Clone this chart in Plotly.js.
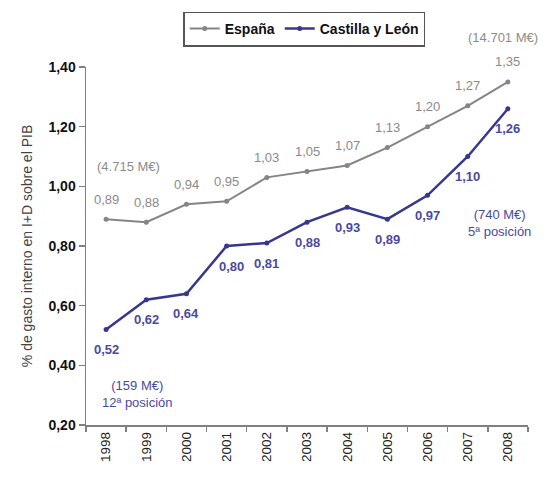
<!DOCTYPE html>
<html>
<head>
<meta charset="utf-8">
<script src="https://cdn.plot.ly/plotly-3.0.1.min.js"></script>
<style>html,body{margin:0;padding:0;background:#fff;}#chart{width:551px;height:477px;}</style>
</head>
<body>
<div id="chart"></div>
<script>
const years = ['1998','1999','2000','2001','2002','2003','2004','2005','2006','2007','2008'];
const espana = [0.89, 0.88, 0.94, 0.95, 1.03, 1.05, 1.07, 1.13, 1.20, 1.27, 1.35];
const castilla = [0.52, 0.62, 0.64, 0.80, 0.81, 0.88, 0.93, 0.89, 0.97, 1.10, 1.26];
const seriesNames = ['España', 'Castilla y León'];
const noteTexts = ['(4.715 M€)', '(14.701 M€)', '(740 M€)<br>5ª posición', '(159 M€)<br>12ª posición'];
const noteYearIdx = [0.55, 9.88, 9.78, 0.77];
const noteValues = [1.067, 1.35, 0.877, 0.303];

const grey = '#858585';
const blue = '#37378f';
const FONT = 'Liberation Sans, Arial, sans-serif';
const noteColors = ['#8c8c8c', '#8c8c8c', '#4a4aa0', '#4a4aa0'];
const noteShift = [0, 44, 0, 0];

const traces = [
  {x: years, y: espana, name: seriesNames[0], type: 'scatter', mode: 'lines+markers',
   line: {color: grey, width: 2}, marker: {color: grey, size: 5, symbol: 'circle'}},
  {x: years, y: castilla, name: seriesNames[1], type: 'scatter', mode: 'lines+markers',
   line: {color: blue, width: 2.5}, marker: {color: blue, size: 5, symbol: 'circle'}}
];

const fmt = v => v.toFixed(2).replace('.', ',');
const annotations = [];
years.forEach((yr, i) => {
  annotations.push({xref: 'x', yref: 'y', x: i, y: espana[i], text: fmt(espana[i]), showarrow: false, yshift: 20,
    font: {family: FONT, size: 13, color: '#8a8a8a'}});
  annotations.push({xref: 'x', yref: 'y', x: i, y: castilla[i], text: '<b>' + fmt(castilla[i]) + '</b>', showarrow: false, yshift: -20,
    xshift: (i === 3 ? 5 : 0),
    font: {family: FONT, size: 13, color: '#4a4aa0'}});
});
noteTexts.forEach((t, k) => {
  annotations.push({xref: 'x', yref: 'y', x: noteYearIdx[k], y: noteValues[k], text: t, showarrow: false,
    yshift: noteShift[k],
    font: {family: FONT, size: 13, color: noteColors[k]}});
});

const layout = {
  width: 551, height: 477,
  margin: {l: 86, r: 23, t: 65, b: 52},
  paper_bgcolor: '#ffffff', plot_bgcolor: '#ffffff',
  separators: ',.',
  showlegend: true,
  legend: {orientation: 'h', x: 0.22, xanchor: 'left', y: 1.155, yanchor: 'top',
    bordercolor: '#555555', borderwidth: 1.5, bgcolor: '#ffffff',
    font: {family: FONT, size: 14, color: '#111111', weight: 'bold'},
    itemwidth: 30, tracegroupgap: 0},
  xaxis: {type: 'category', range: [-0.5, 10.5], showgrid: false, zeroline: false,
    showline: true, linecolor: '#808080', linewidth: 1.5,
    ticks: 'outside', ticklen: 5, tickcolor: '#808080', tickwidth: 1.5, tickson: 'boundaries',
    tickangle: -90, tickfont: {family: FONT, size: 13.5, color: '#222222'}},
  yaxis: {range: [0.2, 1.4], dtick: 0.2, tick0: 0.2, tickformat: '.2f', showgrid: false, zeroline: false,
    showline: true, linecolor: '#808080', linewidth: 1.5,
    ticks: 'outside', ticklen: 6, tickcolor: '#808080', tickwidth: 1.5,
    tickfont: {family: FONT, size: 14, color: '#111111', weight: 'bold'},
    title: {text: '% de gasto interno en I+D sobre el PIB', standoff: 12,
      font: {family: FONT, size: 14, color: '#444444'}}},
  annotations: annotations
};

Plotly.newPlot('chart', traces, layout, {displayModeBar: false, staticPlot: true});
</script>
</body>
</html>
